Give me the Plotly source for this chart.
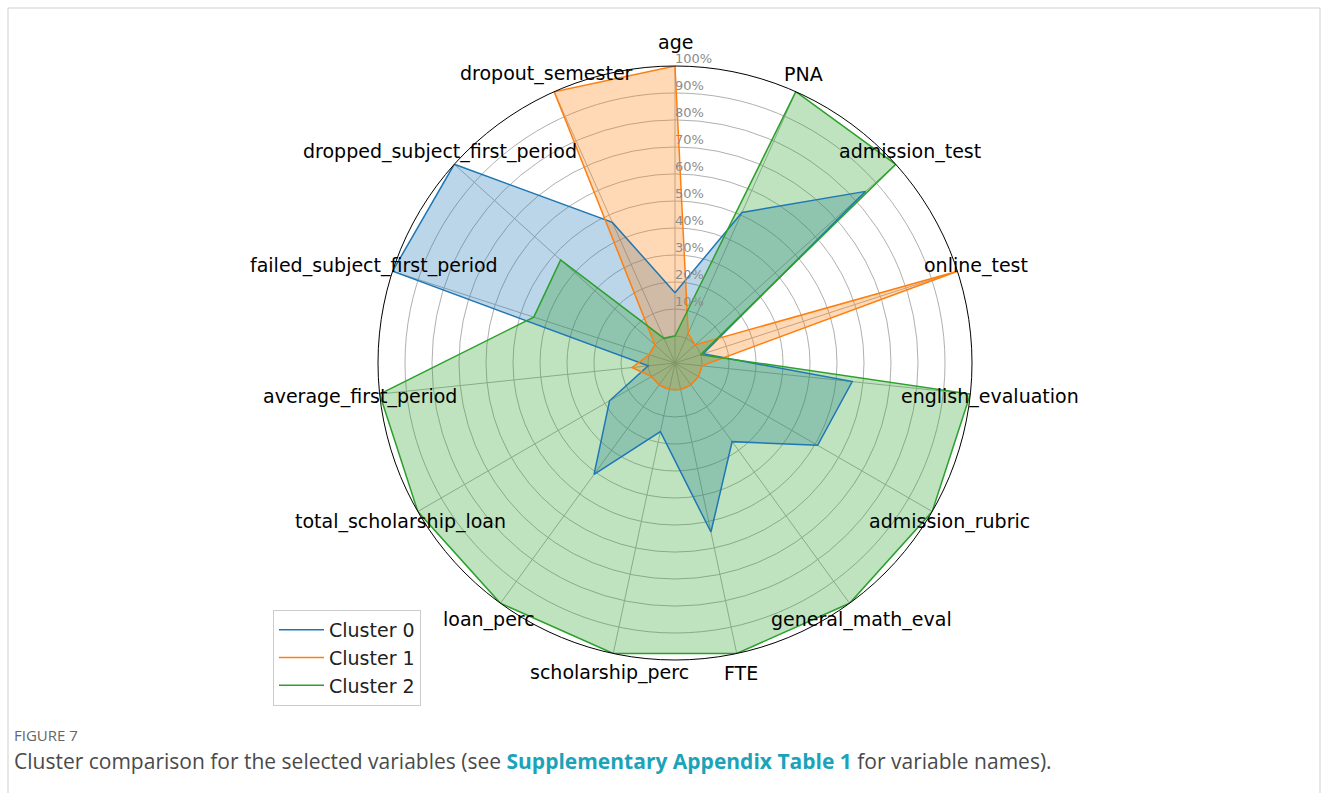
import math
import plotly.graph_objects as go

categories = ["age", "PNA", "admission_test", "online_test", "english_evaluation",
              "admission_rubric", "general_math_eval", "FTE", "scholarship_perc",
              "loan_perc", "total_scholarship_loan", "average_first_period",
              "failed_subject_first_period", "dropped_subject_first_period",
              "dropout_semester"]

cluster_0 = [0.16, 0.51, 0.85, 0.01, 0.56, 0.51, 0.26, 0.54, 0.16, 0.41, 0.18, 0.0, 1.0, 1.0, 0.47]
cluster_1 = [1.0, 0.02, 0.0, 1.0, 0.0, 0.0, 0.0, 0.0, 0.0, 0.0, 0.0, 0.06, 0.0, 0.0, 1.0]
cluster_2 = [0.0, 1.0, 1.0, 0.0, 1.0, 1.0, 1.0, 1.0, 1.0, 1.0, 1.0, 1.0, 0.45, 0.47, 0.0]

series_names = ["Cluster 0", "Cluster 1", "Cluster 2"]
series_values = [cluster_0, cluster_1, cluster_2]
colors = ["#1f77b4", "#ff7f0e", "#2ca02c"]
fills = ["rgba(31,119,180,0.3)", "rgba(255,127,14,0.3)", "rgba(44,160,44,0.3)"]

radial_ticks = [0.1, 0.2, 0.3, 0.4, 0.5, 0.6, 0.7, 0.8, 0.9, 1.0]
radial_tick_labels = ["10%", "20%", "30%", "40%", "50%", "60%", "70%", "80%", "90%", "100%"]

fig = go.Figure()

# fills first (matplotlib patches sit below lines)
for name, vals, fc in zip(series_names, series_values, fills):
    fig.add_trace(go.Scatterpolar(
        r=vals + vals[:1], theta=categories + categories[:1],
        mode="lines", fill="toself", fillcolor=fc,
        line=dict(width=0, color=fc), showlegend=False, hoverinfo="skip"))

for name, vals, c in zip(series_names, series_values, colors):
    fig.add_trace(go.Scatterpolar(
        r=vals + vals[:1], theta=categories + categories[:1],
        mode="lines", name=name, line=dict(color=c, width=1.5)))

# radial tick labels along the first axis
fig.add_trace(go.Scatterpolar(
    r=radial_ticks, theta=[categories[0]] * len(radial_ticks), mode="text",
    text=radial_tick_labels, textposition="top right",
    textfont=dict(family="DejaVu Sans", size=13, color="#8c8c8c"),
    cliponaxis=False, showlegend=False, hoverinfo="skip"))

W, H = 1328, 793
cx, cy, R = 675, 363, 297
label_offset = 316.6  # px from centre for category labels (centred, matplotlib-style)

annotations = []
n = len(categories)
for i, cat in enumerate(categories):
    a = 2 * math.pi * i / n
    off = label_offset + (4 if i == 0 else 0)
    px = cx + off * math.sin(a)
    py = cy - off * math.cos(a)
    annotations.append(dict(
        xref="paper", yref="paper", x=px / W, y=(H - py) / H,
        xanchor="center", yanchor="middle", showarrow=False, text=cat,
        font=dict(family="DejaVu Sans", size=19, color="black")))

annotations += [
    dict(xref="paper", yref="paper", x=12 / W, y=(H - 735) / H,
         xanchor="left", yanchor="middle", showarrow=False,
         text="FIGURE 7",
         font=dict(family="Open Sans", size=15, color="#666666")),
    dict(xref="paper", yref="paper", x=12 / W, y=(H - 761) / H,
         xanchor="left", yanchor="middle", showarrow=False,
         text=("Cluster comparison for the selected variables (see "
               "<b><span style='color:#1ba3ba'>Supplementary Appendix Table 1</span></b>"
               " for variable names)."),
         font=dict(family="Open Sans", size=21, color="#4a4a4a")),
]

fig.update_layout(
    width=W, height=H,
    margin=dict(l=0, r=0, t=0, b=0),
    paper_bgcolor="white",
    font=dict(family="DejaVu Sans", size=19, color="black"),
    polar=dict(
        domain=dict(x=[(cx - R) / W, (cx + R) / W],
                    y=[(H - cy - R) / H, (H - cy + R) / H]),
        bgcolor="white",
        angularaxis=dict(type="category", categoryarray=categories,
                         rotation=90, direction="clockwise",
                         showticklabels=False, ticks="",
                         showgrid=True, gridcolor="#b0b0b0", gridwidth=1,
                         showline=True, linecolor="black", linewidth=1),
        radialaxis=dict(range=[-0.1, 1.0], tickvals=[0.0] + radial_ticks,
                        showticklabels=False, ticks="", showline=False,
                        showgrid=True, gridcolor="#b0b0b0", gridwidth=1),
    ),
    legend=dict(x=273 / W, y=(H - 610) / H, xanchor="left", yanchor="top",
                bgcolor="white", bordercolor="#cccccc", borderwidth=1,
                itemwidth=45,
                font=dict(family="DejaVu Sans", size=19, color="#222222")),
    shapes=[
        dict(type="line", xref="paper", yref="paper", x0=8 / W, x1=1320 / W,
             y0=(H - 8) / H, y1=(H - 8) / H, line=dict(color="#cfcfcf", width=1)),
        dict(type="line", xref="paper", yref="paper", x0=8 / W, x1=8 / W,
             y0=0, y1=(H - 8) / H, line=dict(color="#cfcfcf", width=1)),
        dict(type="line", xref="paper", yref="paper", x0=1320 / W, x1=1320 / W,
             y0=0, y1=(H - 8) / H, line=dict(color="#cfcfcf", width=1)),
    ],
    annotations=annotations,
)

fig.write_html("out.html")
